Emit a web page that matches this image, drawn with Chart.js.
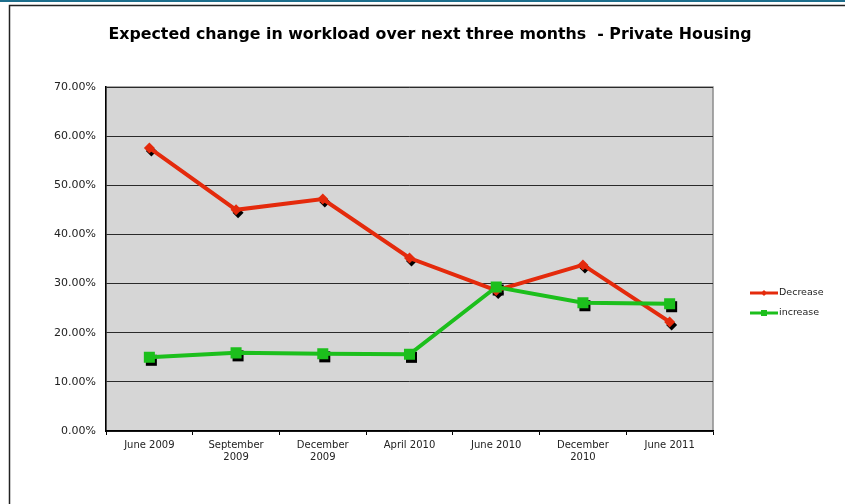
<!DOCTYPE html>
<html>
<head>
<meta charset="utf-8">
<title>Expected change in workload - Private Housing</title>
<script src="https://cdn.jsdelivr.net/npm/chart.js@4.4.1/dist/chart.umd.min.js"></script>
<style>
  html, body { margin: 0; padding: 0; background: #fff; }
  #wrap { position: relative; width: 845px; height: 504px; }
</style>
</head>
<body>
<div id="wrap"><canvas id="workloadChart" width="845" height="504"></canvas></div>
<script>
// Datos del gráfico
const chartTitle = 'Expected change in workload over next three months  - Private Housing';
const periods = ['June 2009', 'September 2009', 'December 2009', 'April 2010', 'June 2010', 'December 2010', 'June 2011'];
const decreaseValues = [57.6, 45.0, 47.2, 35.2, 28.6, 33.8, 22.2];
const increaseValues = [15.0, 15.9, 15.7, 15.6, 29.3, 26.1, 25.9];
const yTicks = [0, 10, 20, 30, 40, 50, 60, 70];

const FONT = '"DejaVu Sans", Verdana, sans-serif';

// Dibuja una forma de marcador (rombo o cuadrado)
function shapePath(ctx, style, r, x, y) {
  ctx.beginPath();
  if (style === 'rectRot') {
    ctx.moveTo(x - r, y);
    ctx.lineTo(x, y - r);
    ctx.lineTo(x + r, y);
    ctx.lineTo(x, y + r);
  } else {
    ctx.rect(x - r, y - r, 2 * r, 2 * r);
  }
  ctx.closePath();
}

// Marco, fondo del área de trazado y título
const frameAndBackground = {
  id: 'frameAndBackground',
  beforeDraw(chart) {
    const { ctx, chartArea: a } = chart;
    ctx.save();
    ctx.fillStyle = '#1d6e8c';
    ctx.fillRect(0, 0, chart.width, 2);
    ctx.strokeStyle = '#222';
    ctx.lineWidth = 1.5;
    ctx.beginPath();
    ctx.moveTo(9.5, chart.height);
    ctx.lineTo(9.5, 5.5);
    ctx.lineTo(chart.width, 5.5);
    ctx.stroke();

    ctx.fillStyle = '#d6d6d6';
    ctx.fillRect(a.left, a.top, a.right - a.left, a.bottom - a.top);
    ctx.strokeStyle = '#8c8c8c';
    ctx.lineWidth = 1.5;
    ctx.strokeRect(a.left, a.top, a.right - a.left, a.bottom - a.top);

    ctx.fillStyle = '#000';
    ctx.font = 'bold 15.8px ' + FONT;
    ctx.textAlign = 'center';
    ctx.textBaseline = 'middle';
    ctx.fillText(chartTitle, 430, 35);
    ctx.restore();
  }
};

// Sombras negras debajo de los marcadores
const markerShadow = {
  id: 'markerShadow',
  beforeDatasetsDraw(chart) {
    const ctx = chart.ctx;
    ctx.save();
    ctx.fillStyle = '#000';
    chart.data.datasets.forEach((ds, i) => {
      chart.getDatasetMeta(i).data.forEach(pt => {
        const r = ds.pointStyle === 'rect' ? ds.pointRadius * Math.SQRT1_2 : ds.pointRadius;
        shapePath(ctx, ds.pointStyle, r, pt.x + 2, pt.y + 3);
        ctx.fill();
      });
    });
    ctx.restore();
  }
};

// Leyenda a la derecha
const sideLegend = {
  id: 'sideLegend',
  afterDraw(chart) {
    const ctx = chart.ctx;
    ctx.save();
    chart.data.datasets.forEach((ds, i) => {
      const y = 293 + i * 20;
      ctx.strokeStyle = ds.borderColor;
      ctx.lineWidth = 3;
      ctx.beginPath();
      ctx.moveTo(750, y);
      ctx.lineTo(778, y);
      ctx.stroke();
      ctx.fillStyle = ds.borderColor;
      shapePath(ctx, ds.pointStyle, 3, 764, y);
      ctx.fill();
      ctx.fillStyle = '#222';
      ctx.font = '9.5px ' + FONT;
      ctx.textAlign = 'left';
      ctx.textBaseline = 'middle';
      ctx.fillText(ds.label, 779, y);
    });
    ctx.restore();
  }
};

const ctx = document.getElementById('workloadChart').getContext('2d');
const workloadChart = new Chart(ctx, {
  type: 'line',
  data: {
    labels: periods,
    datasets: [
      {
        label: 'Decrease',
        data: decreaseValues,
        borderColor: '#e42a0c',
        backgroundColor: '#e42a0c',
        borderWidth: 4,
        pointStyle: 'rectRot',
        pointRadius: 5.5,
        pointBorderWidth: 0,
        tension: 0,
        order: 1
      },
      {
        label: 'increase',
        data: increaseValues,
        borderColor: '#1cbf1c',
        backgroundColor: '#1cbf1c',
        borderWidth: 4,
        pointStyle: 'rect',
        pointRadius: 7.8,
        pointBorderWidth: 0,
        tension: 0,
        order: 0
      }
    ]
  },
  options: {
    responsive: false,
    animation: false,
    layout: { padding: { left: 0, top: 87, right: 132, bottom: 0 } },
    plugins: {
      legend: { display: false },
      title: { display: false },
      tooltip: { enabled: false }
    },
    scales: {
      x: {
        offset: true,
        afterFit: s => { s.height = 73; },
        grid: {
          display: true,
          drawOnChartArea: false,
          drawTicks: true,
          tickLength: 4,
          offset: true,
          color: '#000'
        },
        border: { color: '#000', width: 1.5 },
        ticks: {
          color: '#222',
          padding: 4,
          maxRotation: 0,
          autoSkip: false,
          font: { family: FONT, size: 10 },
          callback: function(value) {
            const label = this.getLabelForValue(value);
            return label.length > 10 ? label.split(' ') : label;
          }
        }
      },
      y: {
        min: yTicks[0],
        max: yTicks[yTicks.length - 1],
        afterFit: s => { s.width = 106; },
        grid: { color: '#2a2a2a', lineWidth: 1, drawTicks: false },
        border: { color: '#000', width: 1.5 },
        ticks: {
          stepSize: yTicks[1] - yTicks[0],
          color: '#222',
          padding: 10,
          font: { family: FONT, size: 11 },
          callback: v => v.toFixed(2) + '%'
        }
      }
    }
  },
  plugins: [frameAndBackground, markerShadow, sideLegend]
});
</script>
</body>
</html>
